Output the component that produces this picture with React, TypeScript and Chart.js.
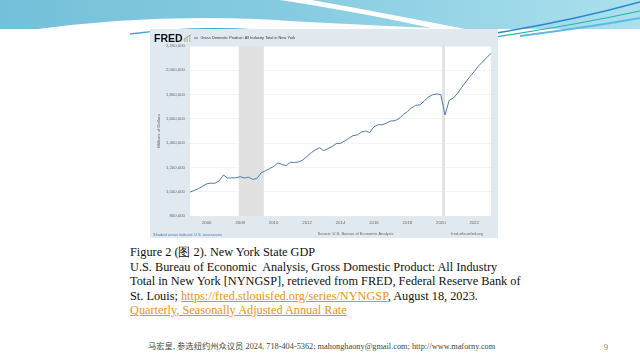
import React, { useEffect, useRef } from "react";
import { Chart, registerables } from "chart.js";

Chart.register(...registerables);

// Quarterly labels 2005Q1 .. 2023Q1
const quarterLabels: string[] = [];
for (let y = 2005; y <= 2023; y++) {
  for (let q = 1; q <= 4; q++) {
    if (y === 2023 && q > 1) break;
    quarterLabels.push(`${y}Q${q}`);
  }
}

// GDP, millions of dollars
const gdpValues: number[] = [
  997000, 1010000, 1025000, 1045000, // 2005
  1065000, 1070000, 1070000, 1090000, // 2006
  1138000, 1112000, 1114000, 1114000, // 2007
  1124000, 1113000, 1120000, 1102000, // 2008
  1108000, 1155000, 1172000, 1190000, // 2009
  1208000, 1236000, 1225000, 1214000, // 2010
  1243000, 1240000, 1245000, 1262000, // 2011
  1292000, 1322000, 1345000, 1362000, // 2012
  1338000, 1355000, 1372000, 1396000, // 2013
  1398000, 1418000, 1440000, 1462000, // 2014
  1468000, 1490000, 1500000, 1487000, // 2015
  1535000, 1552000, 1552000, 1565000, // 2016
  1582000, 1585000, 1602000, 1635000, // 2017
  1660000, 1690000, 1712000, 1715000, // 2018
  1745000, 1780000, 1798000, 1805000, // 2019
  1800000, 1632000, 1752000, 1772000, // 2020
  1810000, 1860000, 1905000, 1950000, // 2021
  1990000, 2035000, 2070000, 2105000, // 2022
  2140000, // 2023
];

const xTickYears: number[] = [2006, 2008, 2010, 2012, 2014, 2016, 2018, 2020, 2022];
const yTickValues: number[] = [800000, 1000000, 1200000, 1400000, 1600000, 1800000, 2000000, 2200000];
// recession periods, decimal years (Dec 2007 - Jun 2009, Feb 2020 - Apr 2020)
const recessionStarts: number[] = [2007.917, 2020.083];
const recessionEnds: number[] = [2009.417, 2020.25];

const labelToYear = (l: string) => {
  const [y, q] = l.split("Q");
  return Number(y) + (Number(q) - 1) / 4;
};

const fmt = (v: number) => v.toLocaleString("en-US");

const fredPlugin = {
  id: "fredDecor",
  beforeDraw(chart: any) {
    const { ctx, chartArea } = chart;
    ctx.save();
    ctx.fillStyle = "#ffffff";
    ctx.fillRect(chartArea.left, chartArea.top, chartArea.right - chartArea.left, chartArea.bottom - chartArea.top);
    ctx.restore();
  },
  beforeDatasetsDraw(chart: any) {
    const { ctx, chartArea, scales } = chart;
    ctx.save();
    ctx.fillStyle = "#e1e1e1";
    recessionStarts.forEach((s, i) => {
      const x1 = scales.x.getPixelForValue(s);
      const x2 = scales.x.getPixelForValue(recessionEnds[i]);
      ctx.fillRect(x1, chartArea.top, x2 - x1, chartArea.bottom - chartArea.top);
    });
    ctx.restore();
  },
  afterDraw(chart: any) {
    const { ctx, chartArea } = chart;
    ctx.save();
    // FRED logo
    ctx.fillStyle = "#111";
    ctx.font = "bold 10.5px 'Liberation Sans', Arial, sans-serif";
    ctx.textBaseline = "alphabetic";
    ctx.textAlign = "left";
    ctx.fillText("FRED", 4, 13);
    // small chart icon
    ctx.fillStyle = "#b9c7a4";
    ctx.fillRect(34, 9, 1.5, 4);
    ctx.fillRect(36.5, 7.5, 1.5, 5.5);
    ctx.fillRect(39, 6, 1.5, 7);
    ctx.strokeStyle = "#7aa05a";
    ctx.lineWidth = 0.7;
    ctx.beginPath();
    ctx.moveTo(33.5, 11);
    ctx.lineTo(37, 8);
    ctx.lineTo(41, 5.5);
    ctx.stroke();
    // legend
    ctx.strokeStyle = "#4572a7";
    ctx.lineWidth = 1;
    ctx.beginPath();
    ctx.moveTo(44, 9);
    ctx.lineTo(48, 9);
    ctx.stroke();
    ctx.fillStyle = "#333";
    ctx.font = "3.9px 'Liberation Sans', Arial, sans-serif";
    ctx.textBaseline = "middle";
    ctx.fillText("Gross Domestic Product: All Industry Total in New York", 50.5, 9);
    // footer texts
    ctx.font = "4px 'Liberation Sans', Arial, sans-serif";
    ctx.fillStyle = "#4a78b0";
    ctx.fillText("Shaded areas indicate U.S. recessions", 3, 206);
    ctx.fillStyle = "#666";
    ctx.textAlign = "center";
    ctx.fillText("Source: U.S. Bureau of Economic Analysis", (chartArea.left + chartArea.right) / 2 + 15, 205);
    ctx.textAlign = "right";
    ctx.fillText("fred.stlouisfed.org", 333, 205);
    ctx.restore();
  },
};

function FredChart() {
  const ref = useRef<HTMLCanvasElement>(null);
  useEffect(() => {
    if (!ref.current) return;
    const chart = new Chart(ref.current, {
      type: "line",
      data: {
        datasets: [
          {
            label: "Gross Domestic Product: All Industry Total in New York",
            data: quarterLabels.map((l, i) => ({ x: labelToYear(l), y: gdpValues[i] })),
            borderColor: "#4f7bb0",
            borderWidth: 1,
            pointRadius: 0,
            tension: 0,
            fill: false,
          },
        ],
      },
      options: {
        animation: false,
        responsive: false,
        maintainAspectRatio: false,
        layout: { padding: { top: 17, right: 7, left: 0, bottom: 0 } },
        plugins: { legend: { display: false }, tooltip: { enabled: false }, title: { display: false } },
        scales: {
          x: {
            type: "linear",
            min: labelToYear(quarterLabels[0]),
            max: labelToYear(quarterLabels[quarterLabels.length - 1]),
            afterBuildTicks: (s: any) => {
              s.ticks = xTickYears.map((v) => ({ value: v }));
            },
            afterFit: (s: any) => {
              s.height = 22;
            },
            grid: { display: false, drawTicks: false },
            border: { display: false },
            ticks: {
              font: { size: 4.3, family: "'Liberation Sans', Arial, sans-serif" },
              color: "#666",
              padding: 4,
              maxRotation: 0,
              autoSkip: false,
              callback: (v: any) => String(v),
            },
          },
          y: {
            min: yTickValues[0],
            max: yTickValues[yTickValues.length - 1],
            afterBuildTicks: (s: any) => {
              s.ticks = yTickValues.map((v) => ({ value: v }));
            },
            afterFit: (s: any) => {
              s.width = 40;
            },
            grid: { color: "#ebebeb", lineWidth: 0.6, drawTicks: false },
            border: { display: false },
            ticks: {
              font: { size: 4.3, family: "'Liberation Sans', Arial, sans-serif" },
              color: "#666",
              padding: 5,
              callback: (v: any) => fmt(Number(v)),
            },
            title: {
              display: true,
              text: "Millions of Dollars",
              font: { size: 4.3, family: "'Liberation Sans', Arial, sans-serif" },
              color: "#666",
              padding: { top: 6, bottom: 0 },
            },
          },
        },
      },
      plugins: [fredPlugin],
    });
    return () => chart.destroy();
  }, []);
  return <canvas ref={ref} width={348} height={209} style={{ display: "block", width: 348, height: 209 }} />;
}

function TopSwoosh() {
  return (
    <svg width={640} height={40} style={{ position: "absolute", left: 0, top: 0 }}>
      <defs>
        <linearGradient id="band" x1="0" y1="0" x2="1" y2="0">
          <stop offset="0" stopColor="#74c0da" />
          <stop offset="0.45" stopColor="#86cbe0" />
          <stop offset="1" stopColor="#ace0ee" />
        </linearGradient>
      </defs>
      <rect x={0} y={0} width={640} height={29} fill="url(#band)" />
      <path d="M30,30 Q160,12 290,21 Q400,27 480,30 Z" fill="#ffffff" />
      <path d="M280,0 L312,0 Q400,16 470,30 L440,30 Q370,14 280,0 Z" fill="#ffffff" />
      <path d="M130,34 Q200,25 270,31" stroke="#3aa9d2" strokeWidth={1.3} fill="none" />
      <path d="M470,37 Q560,24 640,2" stroke="#2b86cf" strokeWidth={1.6} fill="none" />
      <path d="M495,37 Q575,25 640,11" stroke="#22b3a6" strokeWidth={1.2} fill="none" />
      <path d="M520,36 Q590,27 640,18" stroke="#5fb8e6" strokeWidth={2} fill="none" />
    </svg>
  );
}

const linkStyle: React.CSSProperties = { color: "#f0930f", textDecoration: "underline" };

export default function App() {
  return (
    <div
      style={{
        position: "absolute",
        left: 0,
        top: 0,
        width: 640,
        height: 360,
        overflow: "hidden",
        background: "#ffffff",
      }}
    >
      <TopSwoosh />
      <div style={{ position: "absolute", left: 150, top: 29, width: 348, height: 209, background: "#e1e9f0" }}>
        <FredChart />
      </div>
      <div
        style={{
          position: "absolute",
          left: 130,
          top: 245,
          width: 420,
          fontFamily: "'Liberation Serif', 'Times New Roman', serif",
          fontSize: 12.3,
          lineHeight: "14.5px",
          color: "#111",
          whiteSpace: "nowrap",
        }}
      >
        <div>Figure 2 (图 2). New York State GDP</div>
        <div>U.S. Bureau of Economic&nbsp; Analysis, Gross Domestic Product: All Industry</div>
        <div>Total in New York [NYNGSP], retrieved from FRED, Federal Reserve Bank of</div>
        <div>
          St. Louis; <span style={linkStyle}>https://fred.stlouisfed.org/series/NYNGSP</span>, August 18, 2023.
        </div>
        <div>
          <span style={linkStyle}>Quarterly, Seasonally Adjusted Annual Rate</span>
        </div>
      </div>
      <div
        style={{
          position: "absolute",
          left: 148,
          top: 339,
          fontFamily: "'Liberation Serif', 'Noto Sans CJK SC', serif",
          fontSize: 8.3,
          color: "#3a4a3a",
          whiteSpace: "nowrap",
        }}
      >
        马宏皇, 参选纽约州众议员 2024, 718-404-5362; mahonghaony@gmail.com; http://www.maforny.com
      </div>
      <div
        style={{
          position: "absolute",
          left: 604,
          top: 343,
          fontFamily: "'Liberation Serif', serif",
          fontSize: 8,
          color: "#777",
        }}
      >
        9
      </div>
    </div>
  );
}
